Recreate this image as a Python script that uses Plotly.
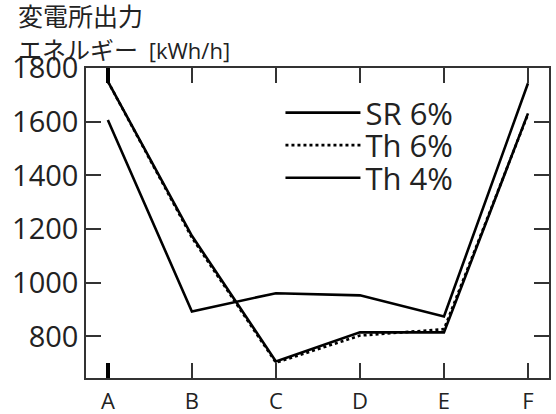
import plotly.graph_objects as go

categories = ["A", "B", "C", "D", "E", "F"]
sr6 = [1750, 1175, 707, 815, 815, 1631]
th6 = [1750, 1168, 702, 803, 827, 1628]
th4 = [1606, 893, 961, 953, 874, 1743]
series_names = ["SR 6%", "Th 6%", "Th 4%"]
y_ticks = [800, 1000, 1200, 1400, 1600, 1800]

xs = list(range(len(categories)))

fig = go.Figure()
fig.add_trace(go.Scatter(x=xs, y=sr6, mode="lines", name=series_names[0],
                         legend="legend",
                         line=dict(color="black", width=2.6)))
fig.add_trace(go.Scatter(x=xs, y=th6, mode="lines", name=series_names[1],
                         legend="legend2",
                         line=dict(color="black", width=2.6, dash="3px,3px")))
fig.add_trace(go.Scatter(x=xs, y=th4, mode="lines", name=series_names[2],
                         legend="legend3",
                         line=dict(color="black", width=2.6)))
# carrier for the heavy tick at the first category (draws nothing itself)
fig.add_trace(go.Scatter(x=xs[:1], y=sr6[:1], mode="lines", xaxis="x2",
                         showlegend=False, hoverinfo="skip",
                         line=dict(color="rgba(0,0,0,0)")))

axcol = "#333333"
leg_common = dict(x=0.42, xanchor="left", yanchor="middle",
                  bgcolor="rgba(0,0,0,0)", font=dict(size=31, color="#222"),
                  itemwidth=75)
fig.update_layout(
    width=556, height=414,
    margin=dict(l=86, r=7, t=68, b=36),
    paper_bgcolor="white", plot_bgcolor="white",
    font=dict(family="Open Sans", color="#222"),
    showlegend=True,
    legend=dict(y=0.855, **leg_common),
    legend2=dict(y=0.750, **leg_common),
    legend3=dict(y=0.645, **leg_common),
    xaxis=dict(range=[-0.26, 5.25], tickmode="array", tickvals=xs, ticktext=categories,
               ticks="inside", ticklen=15, tickwidth=1.5, tickcolor="#333",
               showline=True, linecolor=axcol, linewidth=1.5, mirror="ticks",
               showgrid=False, zeroline=False, ticklabelstandoff=3,
               automargin=False,
               tickfont=dict(size=22, color="#222")),
    xaxis2=dict(range=[-0.26, 5.25], overlaying="x", anchor="y",
                tickmode="array", tickvals=xs[:1], ticks="inside", ticklen=15,
                tickwidth=4, tickcolor="black", showticklabels=False,
                mirror="ticks", showline=False, showgrid=False, zeroline=False),
    yaxis=dict(range=[645, 1800], tickmode="array", tickvals=y_ticks,
               ticks="inside", ticklen=15, tickwidth=1.5, tickcolor="#333",
               showline=True, linecolor=axcol, linewidth=1.5, mirror="ticks",
               showgrid=False, zeroline=False, automargin=False,
               tickfont=dict(size=29, color="#222")),
)

fig.add_annotation(text="変電所出力", xref="paper", yref="paper",
                   x=-0.152, y=1.172, xanchor="left", yanchor="middle",
                   showarrow=False,
                   font=dict(family="Noto Sans CJK JP", size=25, color="#222"))
fig.add_annotation(text="エネルギー  <span style='font-family:Open Sans;font-size:22px'>[kWh/h]</span>",
                   xref="paper", yref="paper",
                   x=-0.152, y=1.062, xanchor="left", yanchor="middle",
                   showarrow=False,
                   font=dict(family="Noto Sans CJK JP", size=24, color="#222"))

fig.write_html("out.html")
